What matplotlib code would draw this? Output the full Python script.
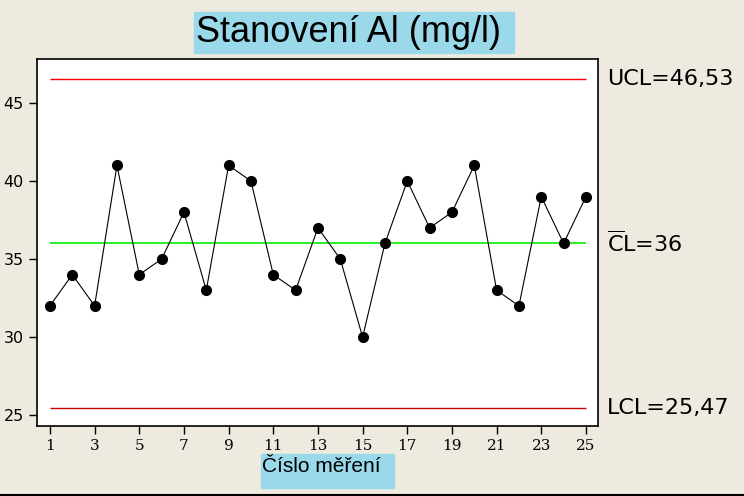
import matplotlib.pyplot as plt
import numpy as np

# measured values, Al (mg/l)
sample = list(range(1, 26))
values = [32, 34, 32, 41, 34, 35, 38, 33, 41, 40, 34, 33, 37, 35, 30,
          36, 40, 37, 38, 41, 33, 32, 39, 36, 39]
ucl = 46.53
cl = 36
lcl = 25.47
x_ticks = list(range(1, 26, 2))
y_ticks = [25, 30, 35, 40, 45]

bg = '#EEEAE0'
box = '#99D9EA'

plt.rcParams['mathtext.fontset'] = 'dejavusans'

fig = plt.figure(figsize=(7.44, 4.96), dpi=100, facecolor=bg)
ax = fig.add_axes([37 / 744, 1 - 426 / 496, 561 / 744, 367 / 496])
ax.set_facecolor('white')

ax.plot(sample, values, color='black', linewidth=0.8, marker='o',
        markersize=7, markerfacecolor='black', markeredgecolor='black', zorder=3)
ax.hlines(ucl, 1, 25, color='#FF0000', linewidth=1)
ax.hlines(cl, 1, 25, color='#00EE00', linewidth=1.2)
ax.hlines(lcl, 1, 25, color='#CC0000', linewidth=1)

ax.set_xlim(0.42, 25.54)
ax.set_ylim(24.3, 47.82)
ax.set_xticks(x_ticks)
ax.set_yticks(y_ticks)
ax.tick_params(direction='out', length=6, width=1, colors='black')
for lab in ax.get_xticklabels():
    lab.set_family('DejaVu Serif')
    lab.set_fontsize(11)
for lab in ax.get_yticklabels():
    lab.set_family('DejaVu Sans')
    lab.set_fontsize(11.5)
for s in ax.spines.values():
    s.set_linewidth(1.2)
    s.set_color('black')

# limit labels on the right
yt = ax.get_yaxis_transform()
ax.text(1.016, ucl, 'UCL=46,53', transform=yt,
        va='center', ha='left', fontsize=16, family='DejaVu Sans')
ax.text(1.016, cl, r'$\overline{\mathrm{C}}$L=36', transform=yt,
        va='center', ha='left', fontsize=16, family='DejaVu Sans')
ax.text(1.016, lcl, 'LCL=25,47', transform=yt,
        va='center', ha='left', fontsize=16, family='DejaVu Sans')

# title and x label with blue boxes
fig.patches.append(plt.Rectangle((194 / 744, 1 - 53 / 496), 320 / 744, 41 / 496,
                                 transform=fig.transFigure, color=box, zorder=0))
fig.text(196 / 744, 1 - 33 / 496, 'Stanovení Al (mg/l)', ha='left', va='center',
         fontsize=26, family='Liberation Sans')
fig.patches.append(plt.Rectangle((261 / 744, 1 - 488 / 496), 133 / 744, 34 / 496,
                                 transform=fig.transFigure, color=box, zorder=0))
fig.text(262 / 744, 1 - 467 / 496, 'Číslo měření', ha='left', va='center',
         fontsize=15, family='Liberation Sans')

# bottom frame line
fig.add_artist(plt.Line2D([0, 1], [1 - 494.5 / 496] * 2, transform=fig.transFigure,
                          color='black', linewidth=1.5))

fig.savefig('out.png', dpi=100, facecolor=bg)
